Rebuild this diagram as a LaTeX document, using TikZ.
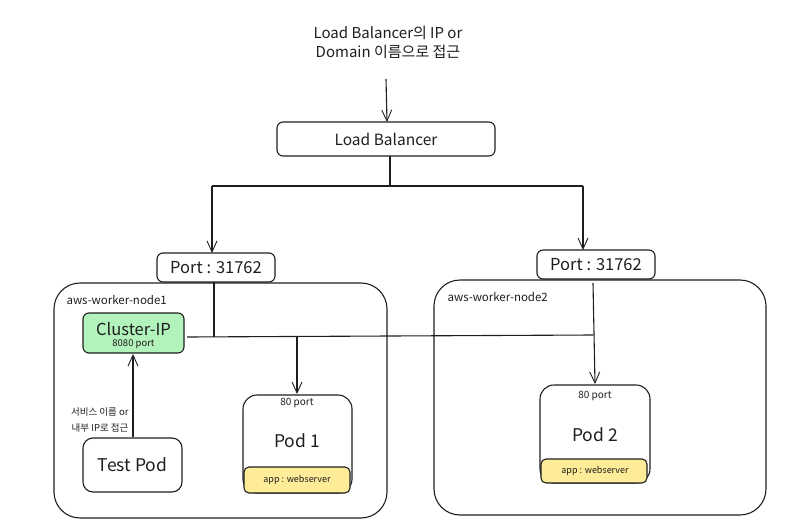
\documentclass[tikz,border=0pt]{standalone}
\usepackage{fontspec}
\setmainfont{Noto Sans CJK KR}
\usetikzlibrary{arrows.meta}
\definecolor{cgreen}{HTML}{B2F2BB}
\definecolor{cyellow}{HTML}{FFEC99}
\definecolor{ink}{HTML}{1E1E1E}
\begin{document}
\begin{tikzpicture}[x=1pt,y=-1pt,
  line width=1.1pt, draw=ink, text=ink,
  box/.style={draw=ink, rounded corners=6pt, line width=1.1pt},
  bigbox/.style={draw=ink, rounded corners=26pt, line width=1.1pt},
  arr/.style={-{Straight Barb[length=11pt,width=10pt,line width=0.9pt]}, line width=1.1pt},
  ln/.style={line width=1.1pt},
  lbl/.style={font=\fontsize{15.5}{18}\selectfont, inner sep=0pt},
  sm/.style={font=\fontsize{10}{11}\selectfont, inner sep=0pt}]
\useasboundingbox (0,0) rectangle (785,530);

% title
\node[lbl, align=center, font=\fontsize{15}{19}\selectfont] (title) at (388,42) {Load Balancer의 IP or\\Domain 이름으로 접근};
\coordinate (tstart) at (386,79);

% load balancer
\draw[box] (277,122) rectangle (495,156);
\node[lbl] (lb) at (386,139) {Load Balancer};
\coordinate (lbtop) at (387,122);
\coordinate (lbbot) at (390,156);

% worker nodes
\draw[bigbox] (54,283) rectangle (387,518);
\node[sm, anchor=west, font=\fontsize{11.5}{13}\selectfont] (n1) at (66,300) {aws-worker-node1};
\draw[bigbox] (434,280) rectangle (766,515);
\node[sm, anchor=west, font=\fontsize{11.5}{13}\selectfont] (n2) at (447,297) {aws-worker-node2};

% ports
\draw[box, fill=white] (157,253) rectangle (275,282);
\node[lbl, font=\fontsize{16.5}{18}\selectfont] (p1) at (216,267.5) {Port : 31762};
\draw[box, fill=white] (537,250) rectangle (655,279);
\node[lbl, font=\fontsize{16.5}{18}\selectfont] (p2) at (596,264.5) {Port : 31762};

% cluster ip
\draw[box, fill=cgreen] (83,313) rectangle (184,353);
\node[lbl, font=\fontsize{16.5}{18}\selectfont] (cip) at (133.5,329) {Cluster-IP};
\node[sm, font=\fontsize{9.5}{10}\selectfont] (cipp) at (133.5,344) {8080 port};

% pods
\draw[box, rounded corners=14pt] (243,395) rectangle (352,493);
\draw[box, fill=cyellow, rounded corners=5pt] (244,467) rectangle (350,493);
\node[sm] (p1port) at (297,403) {80 port};
\node[lbl, font=\fontsize{17.5}{19}\selectfont] (pod1) at (297,441) {Pod 1};
\node[sm, font=\fontsize{9}{10}\selectfont] (w1) at (297,480) {app : webserver};

\draw[box, rounded corners=14pt] (540,385) rectangle (650,483);
\draw[box, fill=cyellow, rounded corners=5pt] (541,459) rectangle (647,483);
\node[sm] (p2port) at (595,396) {80 port};
\node[lbl, font=\fontsize{17.5}{19}\selectfont] (pod2) at (595,435) {Pod 2};
\node[sm, font=\fontsize{9}{10}\selectfont] (w2) at (595,471) {app : webserver};

% test pod
\draw[box, rounded corners=10pt] (83,438) rectangle (182,492);
\node[lbl, font=\fontsize{17.5}{19}\selectfont] (tp) at (132.5,465) {Test Pod};
\node[sm, align=right, anchor=east, font=\fontsize{9.5}{16}\selectfont] (acc) at (129,420) {서비스 이름 or\\내부 IP로 접근};

% connectors
\draw[arr] (tstart) -- (lbtop);
\coordinate (j0) at (390,186);
\coordinate (jl) at (212,186);
\coordinate (jr) at (583,186);
\draw[ln] (lbbot) -- (j0);
\draw[ln] (jl) -- (jr);
\draw[arr] (jl) -- (212,253);
\draw[arr] (jr) -- (583,250);

\coordinate (p1b) at (214,282);
\coordinate (h1) at (214,337);
\coordinate (hl) at (187,337);
\coordinate (hr) at (593,335);
\draw[ln] (p1b) -- (h1);
\draw[ln] (hl) -- (hr);
\draw[arr] (297,337) -- (297,394);
\draw[arr] (593,283) -- (595,384);

\draw[arr] (133,437) -- (133,354);
\end{tikzpicture}
\end{document}
